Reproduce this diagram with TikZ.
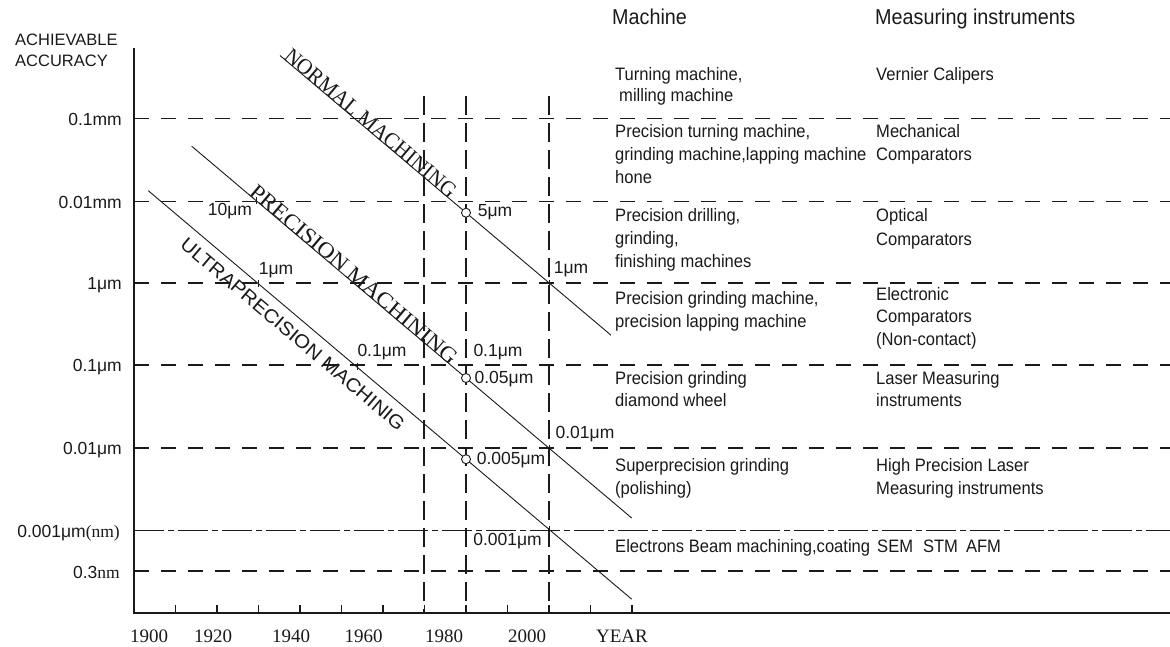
\documentclass[tikz,border=0pt]{standalone}
\usepackage{graphicx}
\usepackage{fontspec}
\setmainfont{Liberation Sans}
\newfontfamily\serifface{Liberation Serif}
\newfontfamily\bodyface[FakeStretch=0.92]{Liberation Sans}
\newfontfamily\normalface[FakeStretch=0.95]{Liberation Serif}
\newfontfamily\precface[FakeStretch=1.07]{Liberation Serif}
\newfontfamily\ultraface[FakeStretch=1.08]{Liberation Sans}
\definecolor{ink}{HTML}{1A1A1A}
\begin{document}
\begin{tikzpicture}[x=1pt,y=-1pt,
  axisline/.style={line width=1.8pt, draw=ink},
  hgrid/.style={line width=1.3pt, draw=ink, dash pattern=on 15pt off 12pt},
  vgrid/.style={line width=1.3pt, draw=ink, dash pattern=on 19pt off 8pt},
  dashdotgrid/.style={line width=1.3pt, draw=ink, dash pattern=on 30pt off 4pt on 6pt off 4pt},
  trend/.style={line width=0.9pt, draw=ink},
  tickmark/.style={line width=1.2pt, draw=ink},
  ring/.style={circle, draw=ink, fill=white, line width=0.9pt, minimum size=9pt, inner sep=0pt},
  txt/.style={font=\bodyface\fontsize{18}{20}\selectfont, inner sep=0pt, anchor=base west, text=ink},
  head/.style={font=\bodyface\fontsize{21.5}{24}\selectfont, inner sep=0pt, anchor=base west, text=ink},
  lbl/.style={font=\fontsize{17.5}{20}\selectfont, inner sep=0pt, text=ink},
  axlbl/.style={font=\fontsize{17.5}{20}\selectfont, inner sep=0pt, anchor=base east, text=ink},
  yearlbl/.style={font=\serifface\fontsize{19}{22}\selectfont, inner sep=0pt, anchor=base, text=ink},
]
\useasboundingbox (0,0) rectangle (1170,646);

% ---------- axes ----------
\coordinate (O) at (134,613);
\coordinate (Ytop) at (134,48);
\coordinate (Xend) at (1170,613);
\draw[axisline] (Ytop) -- (O) -- (Xend);
\foreach \i in {1,...,12}
  \draw[tickmark] ({134+41.5*\i},613) -- ++(0,-8);

% ---------- accuracy levels ----------
\foreach \y in {118.3,201.7,283,365,448,571}
  \draw[hgrid] (134,\y) -- (1170,\y);
\draw[dashdotgrid] (134,530.7) -- (1170,530.7);

% ---------- reference years ----------
\foreach \x in {424,466,549}
  \draw[vgrid] (\x,96) -- (\x,613);

% ---------- y axis labels ----------
\node[font=\fontsize{16.5}{20}\selectfont, inner sep=0pt, anchor=base west, text=ink] (acc1) at (15,45) {ACHIEVABLE};
\node[font=\fontsize{16.5}{20}\selectfont, inner sep=0pt, anchor=base west, text=ink] (acc2) at (15,66.7) {ACCURACY};
\node[axlbl] (l1) at (122,125) {0.1mm};
\node[axlbl] (l2) at (122,208.2) {0.01mm};
\node[axlbl] (l3) at (122,289.5) {1μm};
\node[axlbl] (l4) at (122,371.5) {0.1μm};
\node[axlbl] (l5) at (122,454.2) {0.01μm};
\node[axlbl] (l6) at (120,537) {0.001μm{\serifface(nm)}};
\node[axlbl] (l7) at (120,578) {0.3{\serifface nm}};

% ---------- x axis labels ----------
\node[yearlbl] (y1) at (149,642.5) {1900};
\node[yearlbl] (y2) at (213,642.5) {1920};
\node[yearlbl] (y3) at (291,642.5) {1940};
\node[yearlbl] (y4) at (363.5,642.5) {1960};
\node[yearlbl] (y5) at (444,642.5) {1980};
\node[yearlbl] (y6) at (527,642.5) {2000};
\node[yearlbl] (y7) at (622,642.5) {YEAR};

% ---------- trend lines ----------
\coordinate (N0) at (280,55.5);   \coordinate (N1) at (611,335.2);
\coordinate (P0) at (191.7,146.2); \coordinate (P1) at (631.7,518);
\coordinate (U0) at (148.3,190.7); \coordinate (U1) at (631.7,599.2);
\draw[trend] (N0) -- (N1);
\draw[trend] (P0) -- (P1);
\draw[trend] (U0) -- (U1);

\node[rotate=-40.2, anchor=base, inner sep=0pt, text=ink,
      font=\normalface\fontsize{22}{24}\selectfont] (nlabel) at (366,128.5) {NORMAL MACHINING};
\node[rotate=-40.2, anchor=base, inner sep=0pt, text=ink,
      font=\precface\fontsize{22}{24}\selectfont] (plabel) at (349.5,279.6) {PRECISION MACHINING};
\node[rotate=-40.2, anchor=north, inner sep=0pt, text=ink,
      font=\ultraface\fontsize{19}{22}\selectfont] (ulabel) at (297.3,328.8) {ULTRAPRECISION MACHINIG};

% points on the trend lines
\foreach \x/\y in {549/283, 256/200.5, 549/448, 258/283.4, 357/366, 549/529.3}
  \draw[tickmark, line width=1pt] (\x,\y-3.5) -- (\x,\y+3.5);
\node[ring] (c1) at (466,212.7) {};
\node[ring] (c2) at (466,378) {};
\node[ring] (c3) at (466,459.2) {};

\node[lbl] (p1) at (495,212.5) {5μm};
\node[lbl] (p2) at (571,269) {1μm};
\node[lbl] (p3) at (230,211.5) {10μm};
\node[lbl] (p4) at (276,270) {1μm};
\node[lbl] (p5) at (382,352.5) {0.1μm};
\node[lbl] (p6) at (498,352.5) {0.1μm};
\node[lbl] (p7) at (504,379.5) {0.05μm};
\node[lbl] (p8) at (585,434.5) {0.01μm};
\node[lbl] (p9) at (511,460) {0.005μm};
\node[lbl] (p10) at (507.5,541.5) {0.001μm};

% ---------- machine column ----------
\node[head] (mh) at (612,24) {Machine};
\node[txt] (m1a) at (615,80) {Turning machine,};
\node[txt] (m1b) at (619,101) {milling machine};
\node[txt] (m2a) at (615,137) {Precision turning machine,};
\node[txt] (m2b) at (615,160) {grinding machine,lapping machine};
\node[txt] (m2c) at (615,183) {hone};
\node[txt] (m3a) at (615,221) {Precision drilling,};
\node[txt] (m3b) at (615,244) {grinding,};
\node[txt] (m3c) at (615,267) {finishing machines};
\node[txt] (m4a) at (615,304) {Precision grinding machine,};
\node[txt] (m4b) at (615,327) {precision lapping machine};
\node[txt] (m5a) at (615,384) {Precision grinding};
\node[txt] (m5b) at (615,406) {diamond wheel};
\node[txt] (m6a) at (615,471) {Superprecision grinding};
\node[txt] (m6b) at (615,494) {(polishing)};
\node[txt] (m7a) at (615,552) {Electrons Beam machining,coating};

% ---------- measuring instrument column ----------
\node[head] (ih) at (875,24) {Measuring instruments};
\node[txt] (i1a) at (876,80) {Vernier Calipers};
\node[txt] (i2a) at (876,137) {Mechanical};
\node[txt] (i2b) at (876,160) {Comparators};
\node[txt] (i3a) at (876,221) {Optical};
\node[txt] (i3b) at (876,245) {Comparators};
\node[txt] (i4a) at (876,300) {Electronic};
\node[txt] (i4b) at (876,322) {Comparators};
\node[txt] (i4c) at (876,345) {(Non-contact)};
\node[txt] (i5a) at (876,384) {Laser Measuring};
\node[txt] (i5b) at (876,406) {instruments};
\node[txt] (i6a) at (876,471) {High Precision Laser};
\node[txt] (i6b) at (876,494) {Measuring instruments};
\node[txt] (i7a) at (877,552) {SEM\hspace{10pt}STM\hspace{8pt}AFM};
\end{tikzpicture}
\end{document}
